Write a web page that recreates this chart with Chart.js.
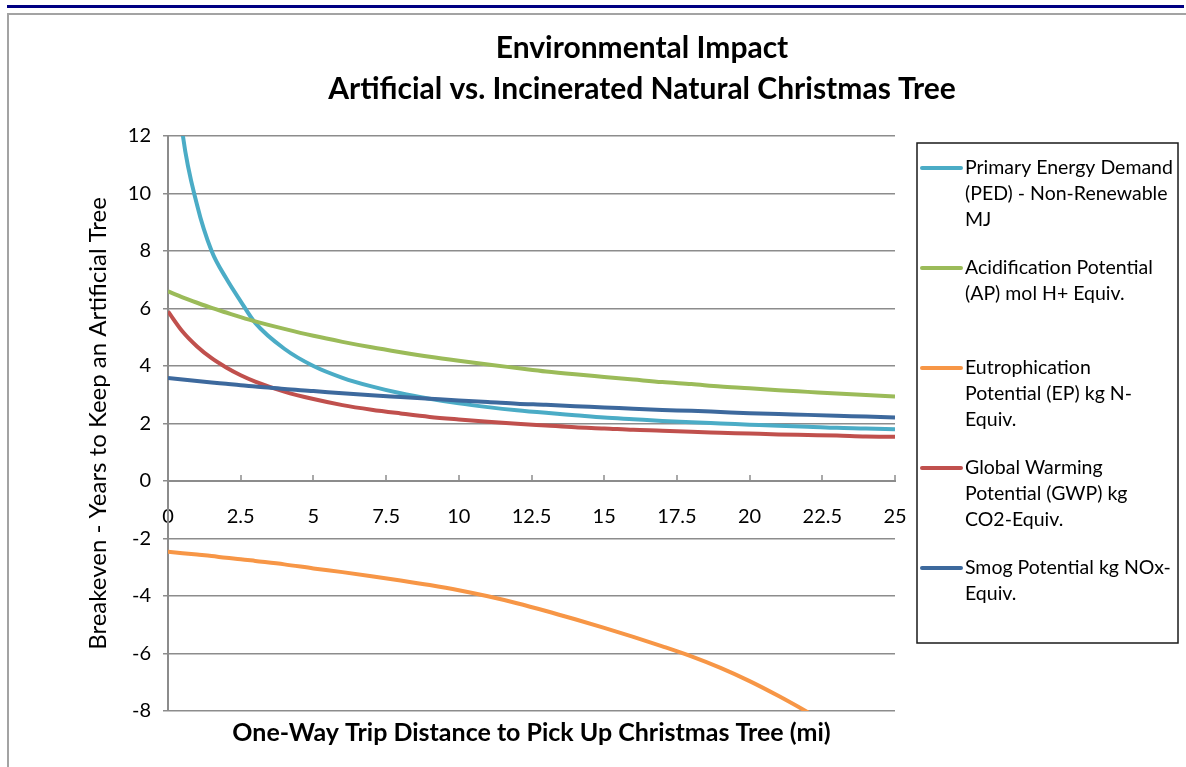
<!DOCTYPE html>
<html>
<head>
<meta charset="utf-8">
<script src="https://cdn.jsdelivr.net/npm/chart.js@4/dist/chart.umd.min.js"></script>
<style>
  html, body { margin: 0; padding: 0; background: #ffffff; }
  body { width: 1186px; height: 767px; overflow: hidden; position: relative; }
  #navy { position: absolute; left: 7px; top: 5px; width: 1177px; height: 3px; background: #000082; }
  #frame { position: absolute; left: 7px; top: 13px; width: 1300px; height: 800px;
           border-top: 2px solid #a3a3a3; border-left: 2px solid #a3a3a3; }
  #c { position: absolute; left: 9px; top: 15px; }
</style>
</head>
<body>
<div id="navy"></div>
<div id="frame"></div>
<canvas id="c" width="1266" height="752"></canvas>
<script>
// ---- data ----
const distances = [0, 0.5, 1, 1.5, 2, 2.5, 3, 4, 5, 6, 7, 8, 9, 10, 11, 12, 13, 14, 15, 16, 17, 18, 19, 20, 21, 22, 23, 24, 25];
const pedValues   = [17.3, 12.1, 9.6, 8.0, 7.05, 6.25, 5.5, 4.6, 4.00, 3.59, 3.29, 3.05, 2.86, 2.70, 2.57, 2.46, 2.37, 2.29, 2.21, 2.15, 2.09, 2.04, 2.00, 1.96, 1.92, 1.89, 1.85, 1.83, 1.80];
const apValues    = [6.60, 6.39, 6.20, 6.02, 5.86, 5.70, 5.55, 5.29, 5.05, 4.84, 4.65, 4.48, 4.32, 4.18, 4.05, 3.93, 3.81, 3.71, 3.62, 3.53, 3.44, 3.37, 3.29, 3.23, 3.16, 3.10, 3.04, 2.99, 2.94];
const epValues    = [-2.46, -2.51, -2.56, -2.61, -2.67, -2.72, -2.78, -2.90, -3.04, -3.17, -3.31, -3.46, -3.62, -3.80, -4.01, -4.25, -4.52, -4.81, -5.11, -5.42, -5.75, -6.10, -6.50, -6.96, -7.48, -8.04, -8.62, -9.22, -9.84];
const gwpValues   = [5.90, 5.20, 4.68, 4.27, 3.95, 3.68, 3.46, 3.11, 2.85, 2.64, 2.48, 2.35, 2.23, 2.14, 2.06, 1.99, 1.93, 1.87, 1.83, 1.78, 1.75, 1.71, 1.68, 1.65, 1.62, 1.60, 1.58, 1.55, 1.54];
const smogValues  = [3.58, 3.53, 3.48, 3.43, 3.38, 3.33, 3.29, 3.20, 3.13, 3.05, 2.98, 2.92, 2.86, 2.80, 2.75, 2.69, 2.65, 2.60, 2.56, 2.51, 2.47, 2.44, 2.40, 2.36, 2.33, 2.30, 2.27, 2.24, 2.21];

const legendLines = [
  ['Primary Energy Demand', '(PED) - Non-Renewable', 'MJ'],
  ['Acidification Potential', '(AP) mol H+ Equiv.'],
  ['Eutrophication', 'Potential (EP) kg N-', 'Equiv.'],
  ['Global Warming', 'Potential (GWP) kg', 'CO2-Equiv.'],
  ['Smog Potential kg NOx-', 'Equiv.']
];
const seriesValues = [pedValues, apValues, epValues, gwpValues, smogValues];
const seriesColors = ['#4bacc6', '#9bbb59', '#f79646', '#c0504d', '#3d699d'];

const titleLines = ['Environmental Impact', 'Artificial vs. Incinerated Natural Christmas Tree'];
const xTitle = 'One-Way Trip Distance to Pick Up Christmas Tree (mi)';
const yTitle = 'Breakeven - Years to Keep an Artificial Tree';
const xMin = 0, xMax = 25, xStep = 2.5;
const yMin = -8, yMax = 12, yStep = 2;

const FONT = 'Lato, "Open Sans", sans-serif';
const GRID = '#8c8c8c';

// ---- custom legend box (takes layout space on the right) ----
const legendBoxPlugin = {
  id: 'wrappedLegend',
  start(chart) {
    const box = {
      chart,
      options: {},
      position: 'right',
      weight: 0,
      fullSize: false,
      isHorizontal() { return false; },
      update(maxW, maxH) { this.width = 380; this.height = maxH; },
      draw() {
        const ctx = chart.ctx;
        const bx = this.left + 22;
        const by = chart.chartArea.top + 7;
        const bw = 261, bh = 500;
        ctx.save();
        ctx.strokeStyle = '#1a1a1a';
        ctx.lineWidth = 1.5;
        ctx.strokeRect(bx, by, bw, bh);
        ctx.font = '19.5px ' + FONT;
        ctx.fillStyle = '#000000';
        ctx.textBaseline = 'middle';
        ctx.textAlign = 'left';
        chart.data.datasets.forEach((ds, i) => {
          const y0 = by + 25 + i * 100;
          ctx.strokeStyle = ds.borderColor;
          ctx.lineWidth = 4;
          ctx.lineCap = 'round';
          ctx.beginPath();
          ctx.moveTo(bx + 5, y0);
          ctx.lineTo(bx + 44, y0);
          ctx.stroke();
          ds.legendText.forEach((t, j) => ctx.fillText(t, bx + 48, y0 + j * 26));
        });
        ctx.restore();
      }
    };
    chart.$wrappedLegend = box;
    Chart.layouts.addBox(chart, box);
  },
  stop(chart) {
    if (chart.$wrappedLegend) Chart.layouts.removeBox(chart, chart.$wrappedLegend);
  }
};

// ---- upward tick marks on the x axis (which crosses at y = 0) ----
const xTickPlugin = {
  id: 'xUpTicks',
  afterDatasetsDraw(chart) {
    const xs = chart.scales.x, ys = chart.scales.y;
    const y0 = ys.getPixelForValue(0);
    const ctx = chart.ctx;
    ctx.save();
    ctx.strokeStyle = GRID;
    ctx.lineWidth = 1.5;
    xs.ticks.forEach(t => {
      const px = Math.round(xs.getPixelForValue(t.value));
      ctx.beginPath();
      ctx.moveTo(px, y0 - 6);
      ctx.lineTo(px, y0);
      ctx.stroke();
    });
    ctx.restore();
  }
};

const datasets = seriesValues.map((vals, i) => ({
  label: legendLines[i].join(' '),
  legendText: legendLines[i],
  data: distances.map((d, k) => ({ x: d, y: vals[k] })),
  borderColor: seriesColors[i],
  backgroundColor: seriesColors[i],
  borderWidth: 4,
  pointRadius: 0,
  cubicInterpolationMode: 'monotone',
  fill: false,
  order: seriesValues.length - i
}));

new Chart(document.getElementById('c'), {
  type: 'line',
  data: { datasets },
  plugins: [legendBoxPlugin, xTickPlugin],
  options: {
    responsive: false,
    devicePixelRatio: 1,
    animation: false,
    layout: { padding: 0 },
    plugins: {
      legend: { display: false },
      tooltip: { enabled: false },
      title: {
        display: true,
        text: titleLines,
        color: '#000000',
        font: { family: FONT, size: 30, weight: 'bold', lineHeight: '41px' },
        padding: { top: 12.5, bottom: 26.5 }
      },
      subtitle: {
        display: true,
        position: 'bottom',
        fullSize: false,
        text: xTitle,
        color: '#000000',
        font: { family: FONT, size: 25, weight: 'bold', lineHeight: '30px' },
        padding: { top: 7, bottom: 19 }
      }
    },
    scales: {
      x: {
        type: 'linear',
        position: { y: 0 },
        min: xMin, max: xMax,
        ticks: {
          stepSize: xStep,
          autoSkip: false,
          maxRotation: 0,
          padding: 24,
          color: '#000000',
          font: { family: FONT, size: 20, lineHeight: '24px' }
        },
        grid: { drawOnChartArea: false, drawTicks: false },
        border: { display: true, color: GRID, width: 2 }
      },
      y: {
        type: 'linear',
        position: 'left',
        min: yMin, max: yMax,
        afterFit(scale) { scale.width = 159; },
        ticks: {
          stepSize: yStep,
          padding: 12,
          color: '#000000',
          font: { family: FONT, size: 20 }
        },
        grid: { color: GRID, lineWidth: 1.5, tickLength: 5 },
        border: { display: true, color: GRID, width: 2 },
        title: {
          display: true,
          text: yTitle,
          color: '#000000',
          font: { family: FONT, size: 24, lineHeight: '28.8px' },
          padding: { top: 74.6, bottom: 0 }
        }
      }
    }
  }
});
</script>
</body>
</html>
